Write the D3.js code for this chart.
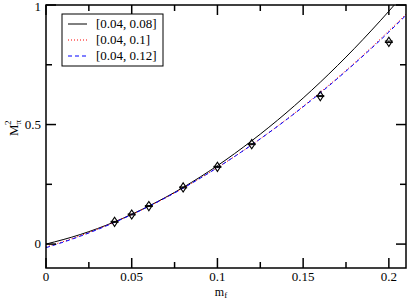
<!DOCTYPE html>
<html>
<head>
<meta charset="utf-8">
<script src="https://cdn.jsdelivr.net/npm/d3@7"></script>
<style>
  body { margin: 0; background: #fff; }
  text { font-family: "Liberation Serif", "Times New Roman", "DejaVu Serif", serif; }
</style>
</head>
<body>
<div id="chart"></div>
<script>
// lattice data: quark mass m_f vs pion mass squared
var mf     = [0.04, 0.05, 0.06, 0.08, 0.1, 0.12, 0.16, 0.2],
    mpi2   = [0.093, 0.124, 0.159, 0.237, 0.323, 0.418, 0.619, 0.846],
    mpiErr = [0.002, 0.002, 0.002, 0.002, 0.002, 0.002, 0.002, 0.003];

// fit curves
var fitX   = [0, 0.02, 0.04, 0.06, 0.08, 0.1, 0.12, 0.14, 0.16, 0.18, 0.2, 0.21],
    fit008 = [0.0, 0.040, 0.093, 0.159, 0.237, 0.328, 0.432, 0.548, 0.677, 0.819, 0.974, 1.056],
    fit010 = [-0.012, 0.035, 0.092, 0.158, 0.234, 0.320, 0.415, 0.520, 0.635, 0.758, 0.892, 0.962],
    fit012 = [-0.015, 0.033, 0.091, 0.158, 0.234, 0.320, 0.415, 0.519, 0.632, 0.755, 0.887, 0.957];

var fitNames = ["[0.04, 0.08]", "[0.04, 0.1]", "[0.04, 0.12]"];

var xMajor = [0, 0.05, 0.1, 0.15, 0.2],
    xMinor = [0.025, 0.075, 0.125, 0.175],
    yMajor = [0, 0.5, 1],
    yMinor = [0.25, 0.75];

var width = 409, height = 300,
    margin = {top: 5, right: 3, bottom: 32, left: 46},
    w = width - margin.left - margin.right,
    h = height - margin.top - margin.bottom;

var serif = "'Liberation Serif', 'Times New Roman', 'DejaVu Serif', serif";

var svg = d3.select("#chart").append("svg")
    .attr("width", width)
    .attr("height", height)
    .attr("font-family", serif);

var x = d3.scaleLinear().domain([0, 0.21]).range([0, w]),
    y = d3.scaleLinear().domain([-0.1, 1]).range([h, 0]);

var g = svg.append("g").attr("transform", "translate(" + margin.left + "," + margin.top + ")");

svg.append("defs").append("clipPath").attr("id", "clip")
  .append("rect").attr("width", w).attr("height", h);

// curves
var styles = [
  {data: fit008, color: "#000", dash: null},
  {data: fit010, color: "#ff0000", dash: "1,2"},
  {data: fit012, color: "#0000ff", dash: "4,3"}
];

var line = d3.line()
    .x(function(d) { return x(d[0]); })
    .y(function(d) { return y(d[1]); })
    .curve(d3.curveMonotoneX);

var curves = g.append("g").attr("clip-path", "url(#clip)");
styles.forEach(function(s) {
  curves.append("path")
    .attr("d", line(fitX.map(function(v, i) { return [v, s.data[i]]; })))
    .attr("fill", "none")
    .attr("stroke", s.color)
    .attr("stroke-width", 1)
    .attr("stroke-dasharray", s.dash);
});

// data points: diamonds with (tiny) error bars
var pts = g.append("g");
mf.forEach(function(v, i) {
  var cx = x(v), cy = y(mpi2[i]);
  var e1 = y(mpi2[i] - mpiErr[i]), e2 = y(mpi2[i] + mpiErr[i]);
  pts.append("path")
    .attr("d", "M" + cx + "," + e1 + "V" + e2 +
               "M" + (cx - 4) + "," + e1 + "H" + (cx + 4) +
               "M" + (cx - 4) + "," + e2 + "H" + (cx + 4))
    .attr("stroke", "#000").attr("stroke-width", 1).attr("fill", "none");
  pts.append("path")
    .attr("d", d3.symbol().type(d3.symbolDiamond).size(24)())
    .attr("transform", "translate(" + cx + "," + cy + ") scale(1.15,1.0)")
    .attr("fill", "none")
    .attr("stroke", "#000")
    .attr("stroke-width", 1);
});

// frame and ticks (ticks drawn inward on all sides)
var axes = g.append("g").attr("stroke", "#000").attr("stroke-width", 1.5);
axes.append("rect").attr("width", w).attr("height", h).attr("fill", "none");

function tickX(v, len) {
  axes.append("line").attr("x1", x(v)).attr("x2", x(v)).attr("y1", h).attr("y2", h - len);
  axes.append("line").attr("x1", x(v)).attr("x2", x(v)).attr("y1", 0).attr("y2", len);
}
function tickY(v, len) {
  axes.append("line").attr("y1", y(v)).attr("y2", y(v)).attr("x1", 0).attr("x2", len);
  axes.append("line").attr("y1", y(v)).attr("y2", y(v)).attr("x1", w).attr("x2", w - len);
}
xMajor.forEach(function(v) { tickX(v, 10); });
xMinor.forEach(function(v) { tickX(v, 6); });
yMajor.forEach(function(v) { tickY(v, 10); });
yMinor.forEach(function(v) { tickY(v, 6); });

// tick labels
g.selectAll(".xl").data(xMajor).enter().append("text")
  .attr("x", function(d) { return x(d); })
  .attr("y", h + 13)
  .attr("text-anchor", "middle")
  .attr("font-size", 13)
  .text(function(d) { return d3.format("")(d); });

g.selectAll(".yl").data(yMajor).enter().append("text")
  .attr("x", -5)
  .attr("y", function(d) { return y(d) + (d === 1 ? 6 : 4); })
  .attr("text-anchor", "end")
  .attr("font-size", 13)
  .text(function(d) { return d3.format("")(d); });

// axis titles
var xt = svg.append("text")
  .attr("x", 221).attr("y", 296)
  .attr("text-anchor", "middle")
  .attr("font-size", 12);
xt.append("tspan").text("m");
xt.append("tspan").attr("font-size", 9).attr("dy", 2).text("f");

var yt = svg.append("text")
  .attr("transform", "translate(18,128) rotate(-90)")
  .attr("text-anchor", "middle")
  .attr("font-size", 13);
yt.append("tspan").text("M");
yt.append("tspan").attr("font-size", 9).attr("dy", 3).text("\u03c0");
yt.append("tspan").attr("font-size", 9).attr("dx", -5).attr("dy", -10).text("2");

// legend
var leg = svg.append("g").attr("transform", "translate(62,14)");
leg.append("rect")
  .attr("width", 101).attr("height", 52)
  .attr("fill", "#fff").attr("stroke", "#000").attr("stroke-width", 1);
styles.forEach(function(s, i) {
  var ly = 10 + i * 16;
  leg.append("line")
    .attr("x1", 6).attr("x2", 25).attr("y1", ly).attr("y2", ly)
    .attr("stroke", s.color).attr("stroke-width", 1)
    .attr("stroke-dasharray", s.dash);
  leg.append("text")
    .attr("x", 34).attr("y", ly + 4)
    .attr("font-size", 13)
    .text(fitNames[i]);
});
</script>
</body>
</html>
